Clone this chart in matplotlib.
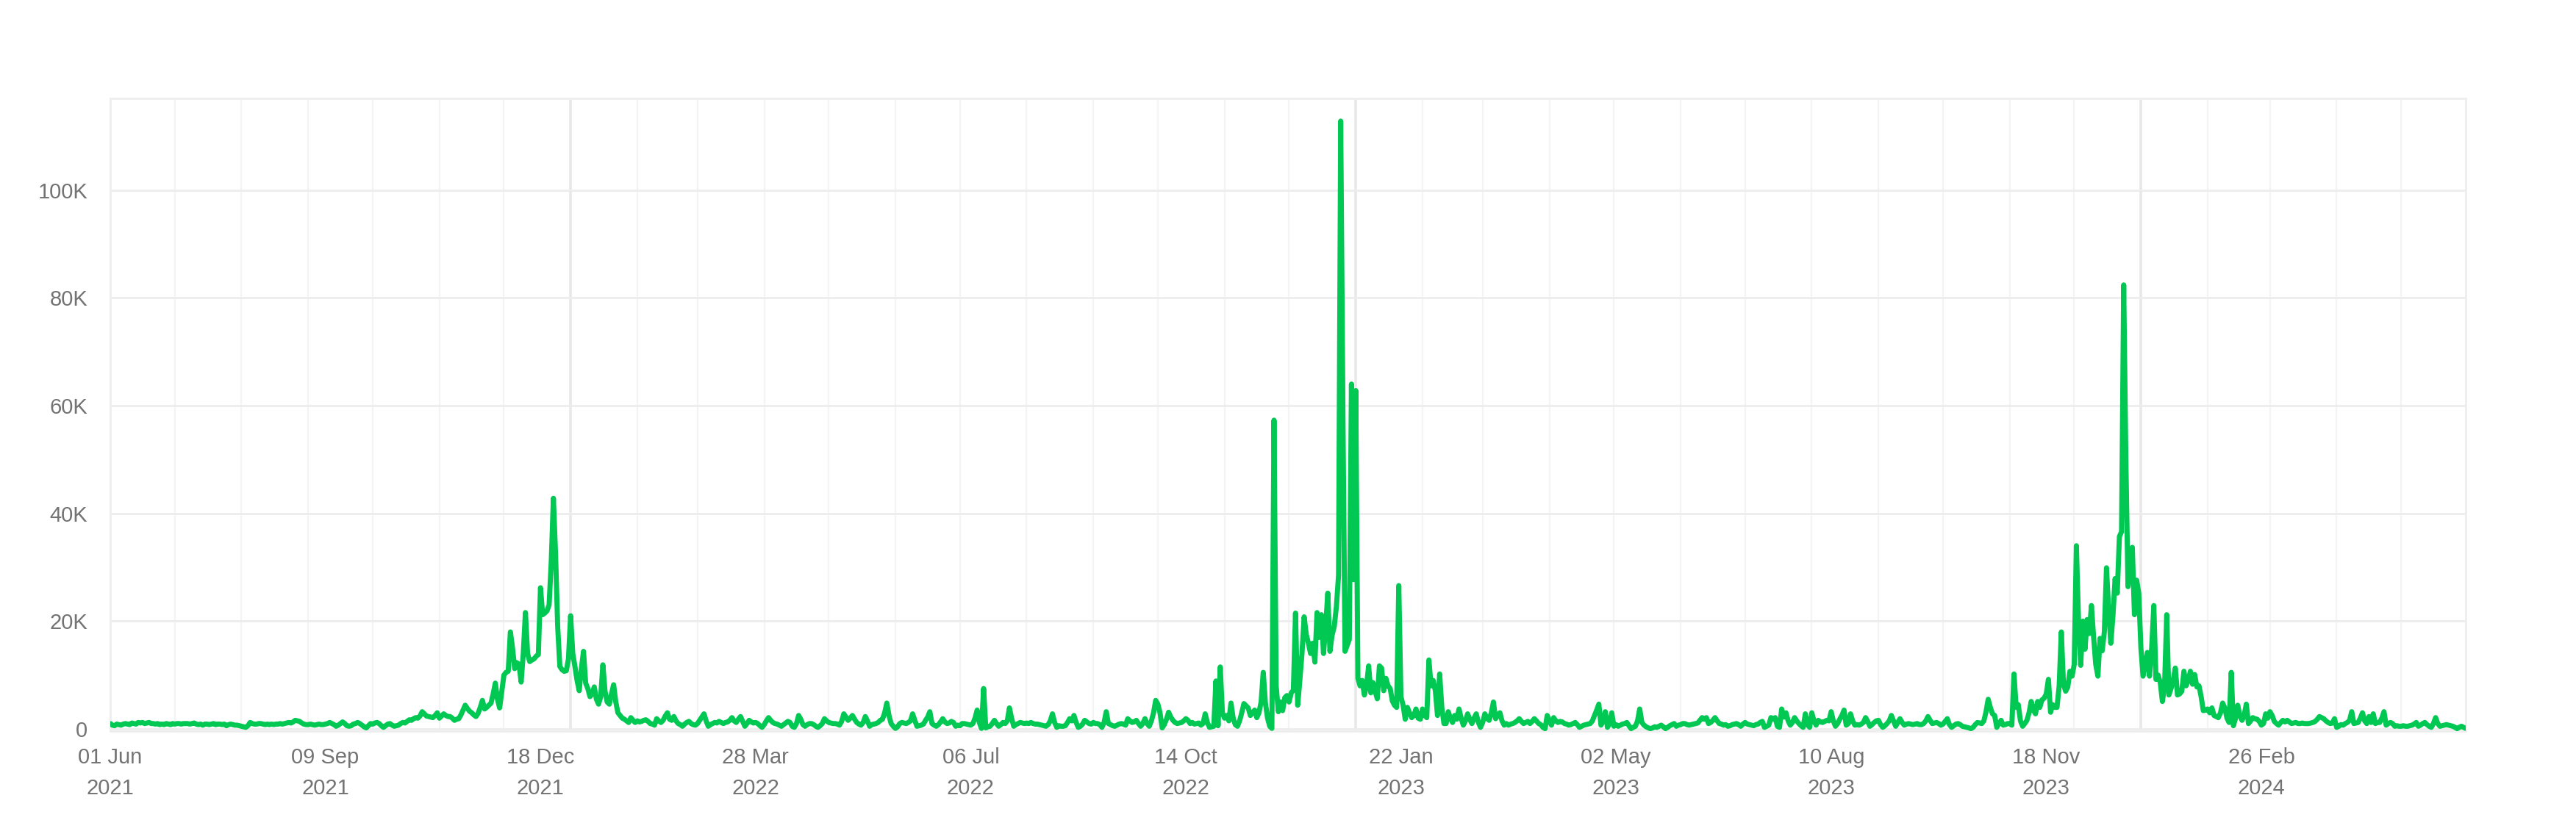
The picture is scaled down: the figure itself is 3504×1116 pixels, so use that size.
import matplotlib
matplotlib.use("Agg")
import matplotlib.pyplot as plt
import matplotlib.dates as mdates
from matplotlib.ticker import FuncFormatter, MultipleLocator
import numpy as np
import pandas as pd

# ---------------- data (daily values, in thousands) ----------------
start_date = "2021-06-01"

m2021_06 = [1.0,0.7,0.6,0.9,0.8,0.7,0.9,1.0,0.9,0.8,1.1,1.0,0.9,1.2,1.1,1.2,1.0,1.1,1.2,1.0,1.0,0.9,1.0,0.8,0.9,0.8,1.0,0.9,0.8,1.0]
m2021_07 = [0.9,1.0,1.0,0.9,1.0,1.0,1.0,0.9,1.0,1.1,0.9,0.8,0.9,0.7,0.9,0.9,0.8,0.9,1.0,0.8,0.9,0.9,0.8,0.9,0.6,0.8,0.9,0.8,0.7,0.7,0.6]
m2021_08 = [0.5,0.4,0.3,0.6,1.2,1.0,0.9,0.9,1.0,1.0,0.9,0.8,0.9,0.8,0.9,0.8,0.9,0.9,1.0,0.9,1.0,1.1,1.2,1.1,1.3,1.6,1.5,1.4,1.1,0.9,0.8]
m2021_09 = [0.8,0.9,0.8,0.7,0.8,0.9,0.8,0.8,0.9,1.0,1.2,1.0,0.8,0.5,0.7,1.0,1.3,1.0,0.6,0.5,0.6,0.9,1.0,1.2,1.0,0.7,0.4,0.2,0.6,1.0]
m2021_10 = [0.9,1.1,1.2,1.0,0.6,0.3,0.6,0.9,1.0,0.7,0.5,0.6,0.7,1.0,1.2,1.1,1.4,1.7,1.6,1.9,2.1,2.0,2.4,3.2,2.8,2.4,2.3,2.2,2.1,2.5,3.0]
m2021_11 = [2.0,2.4,2.8,2.5,2.3,2.3,2.0,1.6,1.8,1.9,2.6,3.5,4.4,3.8,3.3,3.0,2.6,2.3,2.9,4.0,5.3,3.7,4.0,4.4,4.8,6.5,8.5,5.5,3.9,7.0]
m2021_12 = [10.0,10.5,10.7,18.0,15.0,11.2,12.3,12.0,8.7,14.0,21.6,14.0,12.5,12.8,13.0,13.5,13.8,26.2,21.2,21.5,21.9,23.0,31.0,42.8,32.5,18.9,11.6,11.0,10.7,10.8,13.0]
m2022_01 = [21.0,14.0,11.6,9.0,7.1,11.2,14.4,8.5,7.5,6.0,6.5,7.8,5.5,4.6,6.0,11.9,7.0,5.0,4.6,6.5,8.2,5.0,3.0,2.5,2.0,1.8,1.5,1.2,2.1,1.6,1.2]
m2022_02 = [1.5,1.3,1.4,1.6,1.7,1.4,1.0,0.9,0.7,1.9,1.5,1.2,1.6,2.4,3.0,1.8,1.6,2.3,1.5,1.0,0.8,0.5,0.9,1.2,1.4,1.0,0.8,0.7]
m2022_03 = [1.0,1.6,2.2,2.8,1.5,0.5,0.8,1.0,1.2,1.1,1.4,1.2,1.0,1.2,1.3,1.6,2.1,1.5,1.2,1.8,2.3,1.4,0.5,1.0,1.6,1.3,1.1,1.2,1.0,0.6,0.3]
m2022_04 = [0.8,1.5,2.1,1.6,1.2,1.0,0.9,0.7,0.5,0.8,1.1,1.4,1.2,0.5,0.3,1.0,2.5,1.8,0.8,0.5,0.8,1.0,1.0,0.8,0.5,0.3,0.6,1.0,1.9,1.5]
m2022_05 = [1.2,1.1,1.0,1.0,0.9,0.7,1.4,2.8,2.2,1.6,2.0,2.5,1.8,1.2,0.9,0.7,1.2,2.3,1.5,0.5,0.8,0.9,1.0,1.2,1.6,1.8,3.0,4.8,2.5,1.0,0.5]
m2022_06 = [0.1,0.4,1.0,1.2,1.1,1.0,1.2,1.5,2.8,1.6,0.5,0.6,0.7,0.9,1.6,2.2,3.2,1.0,0.7,0.5,0.8,1.3,1.9,1.3,1.0,1.1,1.4,1.2,0.5,0.7]
m2022_07 = [0.6,1.0,1.0,0.9,0.8,0.7,1.0,2.0,3.5,1.2,0.1,7.5,0.2,0.4,0.5,1.0,1.6,1.0,0.5,0.8,1.2,1.0,1.5,3.9,2.0,0.5,0.8,1.0,1.2,1.1,1.0]
m2022_08 = [1.1,1.0,1.2,1.0,0.9,0.9,0.8,0.7,0.6,0.5,0.8,1.5,2.8,1.2,0.3,0.6,0.5,0.5,0.6,1.2,1.9,1.5,2.5,1.2,0.3,0.5,0.9,1.6,1.3,1.0,0.9]
m2022_09 = [1.2,1.0,1.0,0.8,0.3,1.2,3.2,1.0,0.8,0.6,0.5,0.7,0.9,1.0,0.9,0.7,1.9,1.5,1.2,1.3,1.6,1.0,0.5,1.0,1.9,1.0,0.5,1.5,3.0,5.3]
m2022_10 = [4.6,3.0,0.2,0.8,1.8,3.1,2.2,1.6,1.2,1.0,1.1,1.2,1.5,1.9,1.6,1.0,1.2,0.9,1.0,1.1,0.7,1.0,2.8,1.2,0.3,0.4,0.5,8.9,0.6,11.5,3.0]
m2022_11 = [2.0,2.5,1.5,4.8,2.0,0.8,0.5,1.5,3.0,4.7,4.3,3.9,2.5,3.0,3.5,2.1,3.0,5.0,10.5,4.8,2.0,0.5,0.1,57.3,8.0,3.2,5.0,3.4,5.8,6.2]
m2022_12 = [5.0,6.7,7.2,21.5,4.4,9.0,14.0,20.8,17.5,15.9,14.0,15.9,12.4,21.6,17.0,21.2,14.0,19.0,25.2,14.4,17.4,19.0,22.7,28.5,112.8,60.0,14.4,15.5,16.6,64.0,27.7]
m2023_01 = [62.8,9.4,8.0,9.0,6.3,8.0,11.7,6.7,8.6,7.0,5.6,11.7,11.3,7.1,9.4,8.0,7.5,5.2,4.4,4.0,26.6,6.0,4.4,1.8,4.0,3.0,2.1,2.5,3.7,2.0,1.8]
m2023_02 = [3.7,2.5,2.1,12.8,8.0,9.0,7.1,2.5,10.2,4.0,1.0,1.0,3.2,2.0,1.2,2.5,1.8,3.7,2.0,0.7,1.5,2.8,1.8,1.0,2.0,2.8,1.2,0.3]
m2023_03 = [1.2,2.8,2.0,1.6,3.0,5.0,1.9,2.5,3.0,1.5,0.7,1.0,0.7,0.9,1.0,1.2,1.5,1.9,1.4,1.0,1.2,1.4,1.0,1.4,1.9,1.5,1.0,0.8,0.3,0.05,2.5]
m2023_04 = [1.5,0.7,2.1,1.5,1.2,1.4,1.3,1.0,0.9,0.7,0.8,1.0,1.2,0.8,0.3,0.5,0.7,0.8,0.9,1.0,1.5,2.5,3.5,4.6,0.7,1.5,3.2,0.3,1.0,3.0]
m2023_05 = [0.5,0.8,0.5,0.7,0.9,1.0,1.2,0.6,0.05,0.3,0.5,1.5,3.7,1.2,0.7,0.4,0.2,0.05,0.2,0.4,0.3,0.5,0.7,0.4,0.05,0.3,0.6,0.8,1.0,0.5,0.7]
m2023_06 = [0.8,1.0,1.0,0.8,0.7,0.8,0.9,1.0,1.1,1.6,2.1,1.8,2.1,1.0,1.2,1.6,2.1,1.5,1.0,0.9,0.7,0.8,0.5,0.6,0.8,0.9,1.0,0.8,0.5,0.9]
m2023_07 = [1.2,0.9,0.8,0.7,0.6,0.8,0.9,1.2,1.4,0.3,0.5,0.7,2.1,1.8,2.1,0.5,0.3,3.7,2.2,3.0,1.5,0.7,1.2,2.1,1.5,1.0,0.6,0.3,2.8,0.8,0.3]
m2023_08 = [3.0,1.5,0.7,1.6,1.3,1.2,1.4,1.6,1.5,3.2,1.5,0.5,1.0,1.8,2.5,3.5,0.7,1.0,2.8,1.5,0.7,0.8,0.7,0.9,1.2,2.1,1.4,0.5,0.8,1.2,1.5]
m2023_09 = [1.6,0.8,0.3,0.6,1.0,1.5,2.5,1.5,0.5,1.2,1.9,1.2,0.7,0.9,1.0,0.9,0.8,0.9,1.0,0.8,0.8,1.0,1.5,2.3,1.6,1.0,1.1,1.2,1.0,0.7]
m2023_10 = [0.9,1.4,1.9,0.8,0.3,0.6,0.9,1.0,0.8,0.5,0.4,0.3,0.2,0.05,0.3,0.8,1.2,1.1,1.0,1.5,3.2,5.5,4.0,2.8,2.5,0.3,1.0,1.6,0.7,0.8,1.0]
m2023_11 = [1.0,0.7,10.2,4.0,4.5,1.5,0.5,1.0,1.6,3.0,5.1,3.5,2.8,5.1,4.0,5.4,5.7,6.5,9.2,3.1,4.5,4.0,4.0,8.0,18.0,8.3,7.0,7.8,10.7,9.8]
m2023_12 = [12.0,34.0,20.0,11.8,20.0,14.8,20.3,17.7,22.9,17.1,12.0,9.8,16.8,14.5,18.0,29.9,22.0,15.9,21.0,27.9,25.2,35.7,36.6,82.4,50.0,26.4,30.0,33.7,21.2,27.6,25.2]
m2024_01 = [15.0,9.8,12.0,14.2,9.8,15.0,22.9,9.2,10.0,8.6,5.1,8.0,21.2,6.3,7.5,9.0,11.3,6.3,6.5,7.0,10.7,8.0,9.0,10.7,8.3,10.1,7.8,8.0,6.0,3.4,3.5]
m2024_02 = [3.7,3.0,3.9,2.5,2.3,2.1,3.0,4.8,3.9,2.0,1.2,10.5,0.6,2.0,4.4,2.5,1.6,2.5,4.6,1.0,1.5,2.1,1.9,1.8,1.4,0.7,1.0,2.8,2.0]
m2024_03 = [3.2,2.5,1.4,1.0,0.7,1.2,1.6,1.3,1.6,1.3,1.0,1.1,1.2,1.0,1.0,1.1,1.0,1.0,1.0,1.1,1.2,1.4,1.8,2.3,2.1,1.9,1.5,1.2,1.0,1.1,1.9]
m2024_04 = [0.3,0.5,0.8,0.7,1.0,1.2,1.6,3.2,1.0,1.1,1.2,2.0,3.0,1.5,1.0,2.3,1.2,2.8,1.0,1.2,1.2,2.0,3.2,0.7,1.0,1.2,1.0,0.5,0.6,0.5]
m2024_05 = [0.5,0.6,0.5,0.5,0.6,0.7,0.9,1.2,0.5,0.7,1.0,1.2,0.8,0.5,0.3,1.0,2.1,1.0,0.5,0.6,0.7,0.8,0.7,0.6,0.5,0.3,0.05,0.3,0.5,0.3,0.1]

tick_dates = ["2021-06-01", "2021-09-09", "2021-12-18", "2022-03-28", "2022-07-06",
              "2022-10-14", "2023-01-22", "2023-05-02", "2023-08-10", "2023-11-18", "2024-02-26"]
y_ticks = [0, 20000, 40000, 60000, 80000, 100000]

months = [m2021_06, m2021_07, m2021_08, m2021_09, m2021_10, m2021_11, m2021_12,
          m2022_01, m2022_02, m2022_03, m2022_04, m2022_05, m2022_06, m2022_07,
          m2022_08, m2022_09, m2022_10, m2022_11, m2022_12,
          m2023_01, m2023_02, m2023_03, m2023_04, m2023_05, m2023_06, m2023_07,
          m2023_08, m2023_09, m2023_10, m2023_11, m2023_12,
          m2024_01, m2024_02, m2024_03, m2024_04, m2024_05]
values = np.concatenate([np.array(m, dtype=float) for m in months]) * 1000.0
dates = pd.date_range(start_date, periods=len(values), freq="D")

# ---------------- figure ----------------
W, H, DPI = 3504, 1116, 200
fig = plt.figure(figsize=(W / DPI, H / DPI), dpi=DPI)
ax = fig.add_axes([150 / W, 1 - 995 / H, (3354 - 150) / W, (995 - 134) / H])

text_color = "#737373"
grid_color = "#ededed"

# monthly vertical grid lines, year boundaries slightly stronger
for d in pd.date_range("2021-07-01", "2024-05-01", freq="MS"):
    if d.month == 1:
        ax.axvline(d, color="#e8e8e8", lw=1.3, zorder=0)
    else:
        ax.axvline(d, color="#f4f4f4", lw=0.8, zorder=0)

ax.plot(dates, values, color="#00c853", lw=2.5, solid_joinstyle="round",
        solid_capstyle="round", zorder=3)

ax.set_xlim(dates[0], dates[-1])
ax.set_ylim(-400, 117000)

ax.set_yticks(y_ticks)
ax.yaxis.set_major_formatter(FuncFormatter(lambda v, p: "0" if v == 0 else f"{int(v/1000)}K"))
ax.yaxis.grid(True, color=grid_color, lw=1.0, zorder=0)
ax.set_axisbelow(True)

tks = pd.to_datetime(tick_dates)
ax.set_xticks(tks)
ax.set_xticklabels([t.strftime("%d %b") + "\n" + t.strftime("%Y") for t in tks],
                   linespacing=1.62)

for lab in ax.get_xticklabels() + ax.get_yticklabels():
    lab.set_fontfamily("Liberation Sans")
    lab.set_fontsize(10.5)
    lab.set_color(text_color)

ax.tick_params(axis="both", length=0)
ax.tick_params(axis="x", pad=8)
ax.tick_params(axis="y", pad=11)

for s in ax.spines.values():
    s.set_color("#eeeeee")
    s.set_linewidth(1.0)

fig.savefig("out.png", dpi=DPI, facecolor="white")
